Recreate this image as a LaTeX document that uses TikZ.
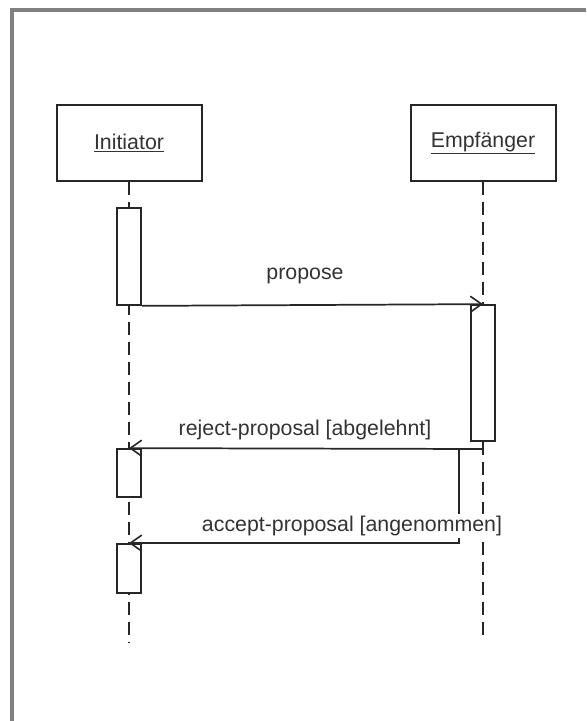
\documentclass[tikz,border=0pt]{standalone}
\usepackage{fontspec}
\setmainfont{Liberation Sans}
\usetikzlibrary{arrows.meta}

\definecolor{framegray}{HTML}{808080}
\definecolor{inkgray}{HTML}{262626}
\definecolor{textgray}{HTML}{333333}

\begin{document}
\begin{tikzpicture}[
    x=0.75pt, y=-0.75pt,
    every node/.style={font=\fontsize{16}{19}\selectfont, text=textgray},
    objbox/.style={draw=inkgray, line width=1.5pt, fill=white,
                   minimum width=145*0.75pt, minimum height=76*0.75pt, inner sep=0pt},
    actbox/.style={draw=inkgray, line width=1.3pt, fill=white,
                   minimum width=24*0.75pt, inner sep=0pt},
    lifeline/.style={draw=inkgray, line width=1.4pt, dash pattern=on 10pt off 5pt},
    msg/.style={draw=inkgray, line width=1.3pt,
                -{Straight Barb[length=8.5pt, width=12pt, line width=1.2pt]}},
    msglabel/.style={inner sep=1.5pt}
]
\useasboundingbox (0,0) rectangle (586,721);

% window frame (left and top edges)
\draw[framegray, line width=2.8pt] (12,721) -- (12,10) -- (586,10);

% objects
\node[objbox] (init) at (129,143) {\underline{Initiator}};
\node[objbox] (empf) at (483,143) {\underline{Empfänger}};

% lifelines
\coordinate (initend) at (129,643);
\coordinate (empfend) at (483,635);
\draw[lifeline] (init.south) -- (initend);
\draw[lifeline] (empf.south) -- (empfend);

% activation bars
\node[actbox, minimum height=97*0.75pt] (act1) at (129,256.5) {};
\node[actbox, minimum height=136*0.75pt] (act2) at (483,373) {};
\node[actbox, minimum height=48*0.75pt] (act3) at (129,473) {};
\node[actbox, minimum height=49*0.75pt] (act4) at (129,568.5) {};

% propose
\draw[msg] (act1.south east) -- (act2.north);
\node[msglabel] (lpropose) at (305,276) {propose};

% reject-proposal, branching into accept-proposal
\coordinate (rstart) at (483,449);
\coordinate (branch) at (459,449);
\draw[msg] (rstart) -- (act3.north);
\node[msglabel] (lreject) at (305,430) {reject-proposal [abgelehnt]};
\draw[msg] (branch) |- (act4.north);
\node[msglabel, fill=white] (laccept) at (352,526) {accept-proposal [angenommen]};
\end{tikzpicture}
\end{document}
